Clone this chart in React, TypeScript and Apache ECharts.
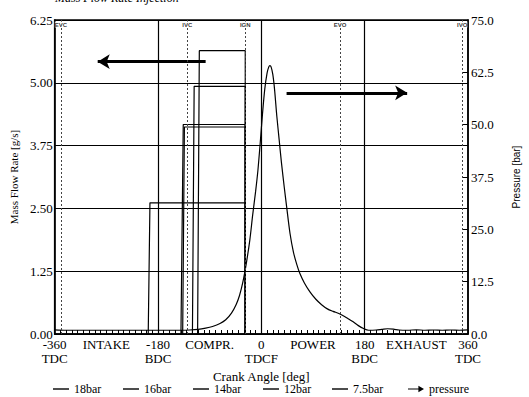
import React, { useEffect, useRef } from 'react';
import * as echarts from 'echarts';

// ---- data ----
const xTickValues = [-360, -270, -180, -90, 0, 90, 180, 270, 360];
const xTickLabels = ['-360\nTDC', 'INTAKE', '-180\nBDC', 'COMPR.', '0\nTDCF', 'POWER', '180\nBDC', 'EXHAUST', '360\nTDC'];

const flowSeriesNames = ['18bar', '16bar', '14bar', '12bar', '7.5bar'];
const flowRates = [5.64, 4.93, 4.17, 4.12, 2.61];
const injectionStartDeg = [-111, -120, -140, -137, -197];
const injectionFullDeg = [-108, -117, -136, -134, -194];
const injectionEndDeg = -28;

const pressureAngles = [
  -360, -340, -320, -300, -280, -260, -240, -220, -200, -180, -160, -140, -125, -110, -97, -85, -72, -62, -52, -44,
  -38, -32, -26, -20, -15, -10, -6, -2, 2, 6, 10, 13, 15, 17, 20, 23, 27, 31, 35, 40,
  44, 50, 56, 62, 67, 75, 85, 95, 105, 115, 125, 135, 145, 152, 160, 169, 178, 187, 200, 210,
  220, 230, 240, 255, 270, 285, 300, 315, 330, 345, 360,
];
const pressureValues = [
  1.0, 0.9, 0.9, 0.9, 0.9, 0.9, 0.9, 0.9, 0.9, 0.9, 0.9, 0.9, 0.95, 1.1, 1.4, 1.8, 2.5, 3.4, 5.0, 7.0,
  9.2, 12.5, 17.0, 22.5, 28.5, 34.0, 39.0, 45.5, 52.5, 58.5, 62.3, 63.8, 64.1, 63.8, 62.0, 58.5, 52.0, 46.5, 41.0, 35.0,
  30.5, 24.0, 19.5, 16.5, 14.5, 12.2, 10.0, 8.3, 7.0, 6.0, 5.4, 4.9, 4.2, 3.6, 2.9, 2.0, 1.3, 0.9, 0.95, 1.1,
  1.25, 1.15, 0.95, 0.9, 1.0, 0.9, 0.95, 0.9, 0.95, 0.9, 1.0,
];

const eventNames = ['EVC', 'IVC', 'IGN', 'EVO', 'IVO'];
const eventAngles = [-349, -129, -28, 137, 350];
const gridAngles = [-180, 0, 180];

const flowArrow = { from: -97, to: -285, level: 5.42 };
const pressureArrow = { from: 44, to: 254, level: 57.6 };

const legendNames = [...flowSeriesNames, 'pressure'];
const legendLeft = [53, 123, 193, 263, 332, 408];

const SERIF = '"Liberation Serif", "Times New Roman", serif';
const SANS = '"Liberation Sans", Arial, sans-serif';

const LINE_ICON = 'path://M0,0 L16,0 L16,1.4 L0,1.4 Z';
const ARROW_ICON = 'path://M0,4.4 L13,4.4 L13,1 L20,5 L13,9 L13,5.6 L0,5.6 Z';

export default function App() {
  const ref = useRef<HTMLDivElement>(null);

  useEffect(() => {
    document.body.style.margin = '0';
    if (!ref.current) return;
    const chart = echarts.init(ref.current, undefined, { renderer: 'svg' });

    const flowSeries = flowSeriesNames.map((name, i) => {
      const s: any = {
        name,
        type: 'line',
        xAxisIndex: 0,
        yAxisIndex: 0,
        symbol: 'none',
        smooth: false,
        lineStyle: { color: '#000', width: 1.2 },
        itemStyle: { color: '#000' },
        data: [
          [injectionStartDeg[i], 0],
          [injectionFullDeg[i], flowRates[i]],
          [injectionEndDeg, flowRates[i]],
          [injectionEndDeg, 0],
        ],
        z: 3,
      };
      if (i === 0) {
        s.markLine = {
          silent: true,
          symbol: ['none', 'arrow'],
          symbolSize: [11, 12],
          label: { show: false },
          lineStyle: { color: '#000', width: 3, type: 'solid' },
          data: [[{ coord: [flowArrow.from, flowArrow.level] }, { coord: [flowArrow.to, flowArrow.level] }]],
        };
      }
      if (i === flowSeriesNames.length - 1) {
        s.markLine = {
          silent: true,
          symbol: ['none', 'none'],
          label: { show: false },
          data: [
            ...gridAngles.map((a) => ({ xAxis: a, lineStyle: { color: '#000', width: 1.2, type: 'solid' } })),
            ...eventAngles.map((a) => ({ xAxis: a, lineStyle: { color: '#444', width: 1, type: [2, 2] } })),
          ],
        };
      }
      return s;
    });

    const pressureSeries: any = {
      name: 'pressure',
      type: 'line',
      xAxisIndex: 0,
      yAxisIndex: 1,
      symbol: 'none',
      smooth: 0.3,
      lineStyle: { color: '#000', width: 1.2 },
      itemStyle: { color: '#000' },
      data: pressureAngles.map((a, i) => [a, pressureValues[i]]),
      z: 4,
      markLine: {
        silent: true,
        symbol: ['none', 'arrow'],
        symbolSize: [11, 12],
        label: { show: false },
        lineStyle: { color: '#000', width: 3, type: 'solid' },
        data: [[{ coord: [pressureArrow.from, pressureArrow.level] }, { coord: [pressureArrow.to, pressureArrow.level] }]],
      },
    };

    const eventLabels: any = {
      name: 'events',
      type: 'scatter',
      xAxisIndex: 0,
      yAxisIndex: 0,
      symbolSize: 1,
      itemStyle: { color: 'transparent' },
      silent: true,
      label: {
        show: true,
        position: 'bottom',
        distance: 1,
        formatter: (p: any) => eventNames[p.dataIndex],
        fontFamily: SANS,
        fontSize: 6,
        fontWeight: 'bold',
        color: '#000',
        backgroundColor: '#fff',
      },
      data: eventAngles.map((a) => [a, 6.25]),
      z: 6,
    };

    const legends = legendNames.map((name, i) => ({
      left: legendLeft[i],
      top: 383,
      padding: 0,
      itemWidth: 16,
      itemHeight: 8,
      itemGap: 0,
      selectedMode: false,
      textStyle: { fontFamily: SERIF, fontSize: 12, color: '#000' },
      data: [{ name, icon: name === 'pressure' ? ARROW_ICON : LINE_ICON }],
    }));

    const option: any = {
      animation: false,
      backgroundColor: '#fff',
      graphic: [
        {
          type: 'text',
          left: 55,
          top: -8,
          style: {
            text: 'Mass Flow Rate Injection',
            fontFamily: SERIF,
            fontStyle: 'italic',
            fontSize: 12,
            fill: '#000',
          },
        },
      ],
      grid: {
        left: 53,
        right: 54,
        top: 20,
        bottom: 63,
        show: true,
        borderColor: '#000',
        borderWidth: 1.5,
        backgroundColor: 'transparent',
      },
      legend: legends,
      xAxis: {
        type: 'value',
        min: -360,
        max: 360,
        interval: 90,
        axisLine: { show: true, onZero: false, lineStyle: { color: '#000', width: 1.5 } },
        axisTick: { show: true, inside: true, length: 4, lineStyle: { color: '#000', width: 1 } },
        minorTick: { show: true, splitNumber: 9, length: 4, lineStyle: { color: '#000', width: 1 } },
        splitLine: { show: false },
        axisLabel: {
          formatter: (v: number) => {
            const idx = xTickValues.indexOf(v);
            return idx >= 0 ? xTickLabels[idx] : '';
          },
          fontFamily: SERIF,
          fontSize: 13,
          lineHeight: 14,
          color: '#000',
          margin: 3,
        },
        name: 'Crank Angle [deg]',
        nameLocation: 'middle',
        nameGap: 29,
        nameTextStyle: { fontFamily: SERIF, fontSize: 13, color: '#000' },
      },
      yAxis: [
        {
          type: 'value',
          position: 'left',
          min: 0,
          max: 6.25,
          interval: 1.25,
          axisLine: { show: true, onZero: false, lineStyle: { color: '#000', width: 1.5 } },
          axisTick: { show: false },
          splitLine: { show: true, lineStyle: { color: '#000', width: 1.2 } },
          axisLabel: {
            formatter: (v: number) => v.toFixed(2),
            fontFamily: SERIF,
            fontSize: 13,
            color: '#000',
            margin: 2,
          },
          name: 'Mass Flow Rate [g/s]',
          nameLocation: 'middle',
          nameGap: 35,
          nameTextStyle: { fontFamily: SERIF, fontSize: 11, color: '#000' },
        },
        {
          type: 'value',
          position: 'right',
          min: 0,
          max: 75,
          interval: 12.5,
          axisLine: { show: true, onZero: false, lineStyle: { color: '#000', width: 1.5 } },
          axisTick: { show: true, inside: true, length: 6, lineStyle: { color: '#000', width: 1 } },
          splitLine: { show: false },
          axisLabel: {
            formatter: (v: number) => v.toFixed(1),
            fontFamily: SERIF,
            fontSize: 13,
            color: '#000',
            margin: 3,
          },
          name: 'Pressure [bar]',
          nameLocation: 'middle',
          nameGap: 43,
          nameTextStyle: { fontFamily: SANS, fontSize: 10, color: '#000' },
        },
      ],
      series: [...flowSeries, pressureSeries, eventLabels],
    };

    chart.setOption(option);
    return () => chart.dispose();
  }, []);

  return (
    <div
      ref={ref}
      style={{ position: 'fixed', left: 0, top: 0, width: 529, height: 397, background: '#fff' }}
    />
  );
}
